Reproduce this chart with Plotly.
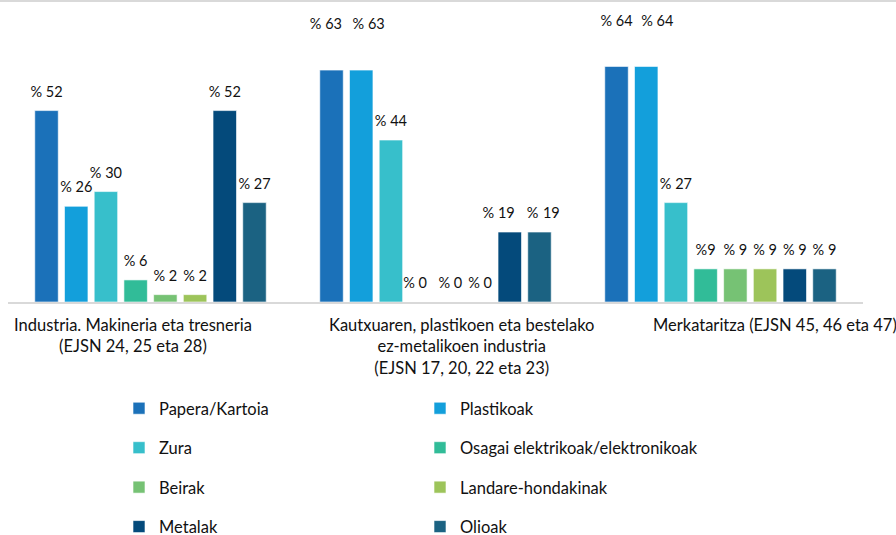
import plotly.graph_objects as go

# ---- data ----
categories = [
    "Industria. Makineria eta tresneria<br>(EJSN 24, 25 eta 28)",
    "Kautxuaren, plastikoen eta bestelako<br>ez-metalikoen industria<br>(EJSN 17, 20, 22 eta 23)",
    "Merkataritza (EJSN 45, 46 eta 47)",
]
series_names = [
    "Papera/Kartoia", "Plastikoak", "Zura", "Osagai elektrikoak/elektronikoak",
    "Beirak", "Landare-hondakinak", "Metalak", "Olioak",
]
papera = [52, 63, 64]
plastikoak = [26, 63, 64]
zura = [30, 44, 27]
osagai = [6, 0, 9]
beirak = [2, 0, 9]
landare = [2, 0, 9]
metalak = [52, 19, 9]
olioak = [27, 19, 9]
values = [papera, plastikoak, zura, osagai, beirak, landare, metalak, olioak]

# data-label texts as printed in the chart
labels = [[f"% {v}" for v in s] for s in values]
labels[3][2] = "%9"
labels[7][1] = "% \u200a19"

# ---- style ----
colors = ["#1B71B9", "#139FDB", "#37BFCB", "#31BC98",
          "#76C274", "#9DC45A", "#044A7B", "#1B6282"]
legend_of = ["legend", "legend2"] * 4
# invisible marker size that lifts each label above its bar
label_lift = [[15, 15, 15] for _ in range(8)]
for i in (0, 1):
    label_lift[i][1] = 58
    label_lift[i][2] = 58
# horizontal nudge of some labels (px, + = right), as in the original chart
label_nudge = [[0, 0, 0] for _ in range(8)]
label_nudge[0][1] = -4.5
label_nudge[1][1] = 5.5
label_nudge[1][2] = 9
label_nudge[3][1] = -4.5
label_nudge[6][1] = -8
label_nudge[7][1] = 3
NBSP_HALF = 1.4  # px shift produced by one padding nbsp


def nudged(text, shift):
    n = int(round(abs(shift) / NBSP_HALF))
    pad = "&nbsp;" * n
    return pad + text if shift > 0 else text + pad


cat_xshift = [-18, 26, 54]
FONT = "Lato"
BARGAP = 0.166

fig = go.Figure()
for i, name in enumerate(series_names):
    fig.add_trace(go.Bar(
        x=categories, y=values[i], name=name,
        marker=dict(color=colors[i], line=dict(color="rgba(255,255,255,0.6)", width=1)),
        legend=legend_of[i], legendgroup=name, hoverinfo="skip",
    ))
for i, name in enumerate(series_names):
    fig.add_trace(go.Scatter(
        x=categories, y=values[i], mode="markers+text",
        text=[nudged(t, s) for t, s in zip(labels[i], label_nudge[i])],
        textposition="top center", showlegend=False, hoverinfo="skip",
        marker=dict(size=label_lift[i], color="rgba(0,0,0,0)", opacity=0,
                    line=dict(width=0)),
        textfont=dict(family=FONT, size=14.5, color="#111111"),
        cliponaxis=False,
    ))

for j, c in enumerate(categories):
    fig.add_annotation(x=j, xref="x", y=0, yref="paper", yanchor="top", xanchor="center",
                       yshift=-11, xshift=cat_xshift[j], text=c, showarrow=False,
                       align="center", font=dict(family=FONT, size=16.5, color="#111111"))

fig.add_shape(type="line", xref="paper", yref="paper",
              x0=-8 / 855, x1=888 / 855, y0=1 + 1 / 300, y1=1 + 1 / 300,
              line=dict(color="#D9D9D9", width=2))

legend_style = dict(xref="container", yref="container", xanchor="left", yanchor="top",
                    tracegroupgap=15, bgcolor="rgba(0,0,0,0)",
                    font=dict(family=FONT, size=16.5, color="#111111"))

fig.update_layout(
    width=896, height=535,
    margin=dict(l=8, r=33, t=2, b=233, autoexpand=False),
    paper_bgcolor="white", plot_bgcolor="white",
    barmode="group", bargap=BARGAP, bargroupgap=0.21,
    scattermode="group", scattergap=BARGAP,
    font=dict(family=FONT, size=15, color="#111111"),
    xaxis=dict(type="category", range=[-0.5, 2.5], autorange=False,
               showticklabels=False, showline=True, linecolor="#D9D9D9", linewidth=2,
               ticks="", showgrid=False, zeroline=False, fixedrange=True),
    yaxis=dict(range=[0, 81.5], autorange=False, visible=False, showgrid=False, zeroline=False),
    legend=dict(x=119 / 896, y=1 - 391 / 535, **legend_style),
    legend2=dict(x=420 / 896, y=1 - 391 / 535, **legend_style),
    showlegend=True,
)

fig.write_html("out.html", config={"displayModeBar": False},
               post_script="document.body.style.margin='0';")
